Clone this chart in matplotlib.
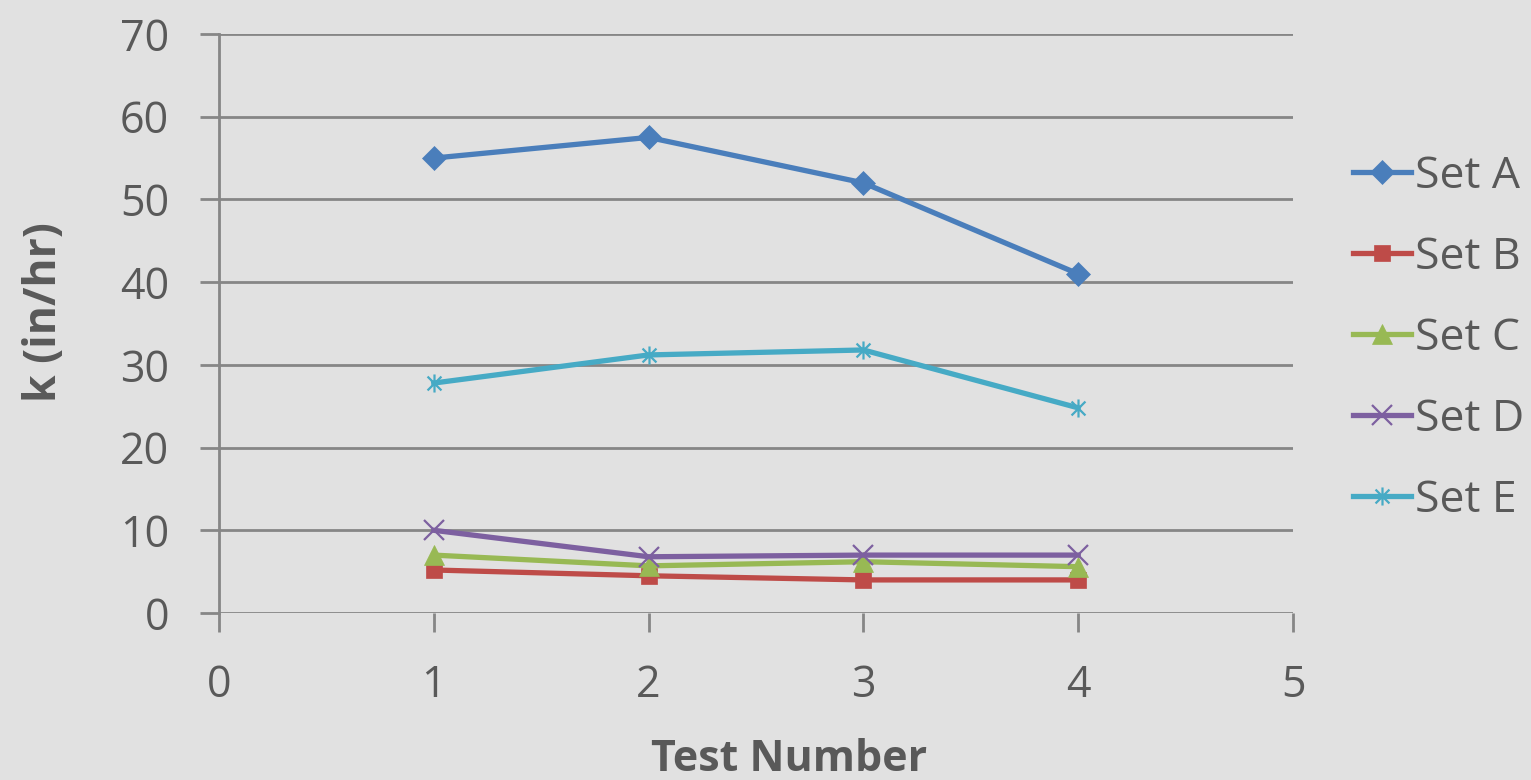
import matplotlib
matplotlib.use("Agg")
import matplotlib.pyplot as plt
from matplotlib.path import Path

# data
test_number = [1, 2, 3, 4]
set_a = [55.0, 57.5, 52.0, 41.0]
set_b = [5.2, 4.5, 4.0, 4.0]
set_c = [7.0, 5.7, 6.2, 5.6]
set_d = [10.0, 6.8, 7.0, 7.0]
set_e = [27.8, 31.2, 31.8, 24.8]

x_ticks = [0, 1, 2, 3, 4, 5]
y_ticks = [0, 10, 20, 30, 40, 50, 60, 70]

BG = "#e1e1e1"
TEXT = "#595959"
GRID = "#868686"

# excel style "star" marker: an x with a vertical bar through it
star = Path(
    [(-1, -1), (1, 1), (-1, 1), (1, -1), (0, -1.3), (0, 1.3)],
    [Path.MOVETO, Path.LINETO, Path.MOVETO, Path.LINETO, Path.MOVETO, Path.LINETO],
)

series = [
    ("Set A", set_a, "#4a7ebb", "D", 12),
    ("Set B", set_b, "#be4b48", "s", 12),
    ("Set C", set_c, "#98b954", "^", 14),
    ("Set D", set_d, "#7d60a0", "x", 14),
    ("Set E", set_e, "#46aac5", star, 13),
]

plt.rcParams["font.family"] = ["Open Sans", "DejaVu Sans"]

fig = plt.figure(figsize=(15.31, 7.8), dpi=100, facecolor=BG)
ax = fig.add_axes([0.143, 0.2141, 0.7016, 0.7423], facecolor=BG)

for name, vals, color, marker, ms in series:
    thin = marker == "x" or marker is star
    ax.plot(
        test_number, vals,
        color=color, linewidth=3.8,
        marker=marker, markersize=ms,
        markerfacecolor=color, markeredgecolor=color,
        markeredgewidth=1.6 if thin else 0.5,
        label=name, clip_on=False, zorder=3,
    )

ax.set_xlim(0, 5)
ax.set_ylim(0, 70)
ax.set_xticks(x_ticks)
ax.set_yticks(y_ticks)

ax.grid(axis="y", color=GRID, linewidth=2.0)
ax.set_axisbelow(True)
for side in ("top", "right", "bottom"):
    ax.spines[side].set_visible(False)
ax.spines["left"].set_color(GRID)
ax.spines["left"].set_linewidth(2.0)
ax.spines["left"].set_bounds(0, 70)

ax.tick_params(axis="y", length=14, width=2.0, color=GRID, pad=22,
               labelsize=31, labelcolor=TEXT)
ax.tick_params(axis="x", length=14, width=2.0, color=GRID, pad=22,
               labelsize=31, labelcolor=TEXT)

ax.set_xlabel("Test Number", fontsize=31, fontweight="bold", color=TEXT, va="center")
ax.xaxis.set_label_coords(0.5307, -0.2525)
ax.set_ylabel("k (in/hr)", fontsize=32, fontweight="bold", color=TEXT, va="center")
ax.yaxis.set_label_coords(-0.162, 0.52)

leg = ax.legend(
    loc="center left", bbox_to_anchor=(1.056, 0.474),
    frameon=False, fontsize=32, labelcolor=TEXT, borderpad=0, borderaxespad=0,
    handlelength=1.3, handletextpad=0.1, labelspacing=0.82,
)

fig.savefig("out.png", dpi=100, facecolor=BG)
